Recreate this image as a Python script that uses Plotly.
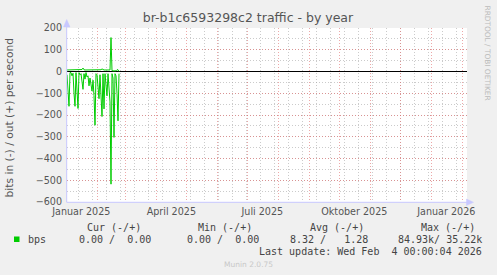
import pandas as pd
import plotly.graph_objects as go

# ---------------- data ----------------
start_day = "2025-01-01 16:00"
bits_in = [-15, -90, -160, -5, -5, -20, -8, -100, -160, -5, -70, -170, -5, -15,
           -10, -40, -82, -10, -35, -5, -25, -20, -66, -30, -60, -90, -40, -110,
           -247, -10, -15, -60, -125, -15, -110, -207, -10, -172, -10, -60, -112,
           -10, -80, -140, -518, -10, -30, -303, -10, -20, -100, -227, -10]
bits_out = [7, 7, 7, 7, 7, 7, 7, 7, 7, 7, 7, 7, 7, 7, 7, 9, 16, 8, 7, 7, 7, 7,
            7, 7, 7, 7, 7, 7, 7, 7, 7, 7, 7, 7, 8, 12, 7, 7, 7, 7, 7, 7, 7, 7,
            156, 4, 3, 3, 3, 3, 8, 8, 0]
dates = pd.date_range(start_day, periods=len(bits_in), freq="D")

x_range = ["2025-01-01 16:00", "2026-02-05 16:00"]
month_starts = pd.date_range("2025-01-01", "2026-02-01", freq="MS")
label_dates = ["2025-01-16", "2025-04-16", "2025-07-16", "2025-10-16", "2026-01-16"]
label_text = ["Januar 2025", "April 2025", "Juli 2025", "Oktober 2025", "Januar 2026"]
y_ticks = [200, 100, 0, -100, -200, -300, -400, -500, -600]

title = "br-b1c6593298c2 traffic - by year"
y_title = "bits in (-) / out (+) per second"
legend_heads = ["Cur (-/+)", "Min (-/+)", "Avg (-/+)", "Max (-/+)"]
legend_vals = ["0.00 /  0.00", "0.00 /  0.00", "8.32 /   1.28", "84.93k/ 35.22k"]
series_name = "bps"
last_update = "Last update: Wed Feb  4 00:00:04 2026"
footer = "Munin 2.0.75"
side_text = "RRDTOOL / TOBI OETIKER"

# ---------------- layout geometry ----------------
W, H = 497, 275
L, R, T, B = 67, 30, 28, 73
PW, PH = W - L - R, H - T - B


def px(xp):
    return (xp - L) / PW


def py(yp):
    return (H - B - yp) / PH


GREEN = "#00CC00"
TXT = "#555555"
LEG = "#444444"
AX = "#C8C8FF"
MAJ = "rgba(225,110,110,0.6)"
MIN = "rgba(160,160,160,0.55)"
DASH = "1px,2px"
sp = lambda s: s.replace(" ", "\u00a0")

fig = go.Figure()
fig.add_trace(go.Scatter(x=dates, y=bits_in, mode="lines",
                         line=dict(color=GREEN, width=1), showlegend=False,
                         name="in"))
fig.add_trace(go.Scatter(x=dates, y=bits_out, mode="lines",
                         line=dict(color=GREEN, width=1), showlegend=False,
                         name="out"))
# invisible companion trace for the label axis
fig.add_trace(go.Scatter(x=[x_range[0]], y=[0], xaxis="x2", mode="markers",
                         marker=dict(opacity=0), showlegend=False,
                         hoverinfo="skip"))

font_ax = dict(family="DejaVu Sans", size=9.6, color=TXT)
fig.update_layout(
    width=W, height=H,
    margin=dict(l=L, r=R, t=T, b=B, pad=0),
    paper_bgcolor="#F0F0F0", plot_bgcolor="white",
    showlegend=False,
    title=dict(text=title, x=248 / W, xanchor="center", y=1 - 18 / H,
               yanchor="middle",
               font=dict(family="DejaVu Sans", size=12.5, color=TXT)),
    xaxis=dict(type="date", range=x_range, tickmode="array",
               tickvals=list(month_starts), ticktext=[""] * len(month_starts),
               showgrid=True, gridcolor=MAJ, griddash=DASH, gridwidth=1,
               ticks="", showline=False, zeroline=False,
               minor=dict(tick0="2024-12-30", dtick=14 * 86400000,
                          showgrid=True, gridcolor=MIN, griddash=DASH,
                          gridwidth=1)),
    xaxis2=dict(type="date", range=x_range, overlaying="x", side="bottom",
                tickmode="array", tickvals=label_dates, ticktext=label_text,
                showgrid=False, ticks="", showline=False, zeroline=False,
                tickfont=font_ax, ticklabelstandoff=2),
    yaxis=dict(range=[-600, 200], tickmode="array", tickvals=y_ticks,
               showgrid=True, gridcolor=MAJ, griddash=DASH, gridwidth=1,
               zeroline=True, zerolinecolor="black", zerolinewidth=1,
               ticks="", showline=False, tickfont=font_ax,
               ticklabelstandoff=4,
               minor=dict(dtick=50, showgrid=True, gridcolor=MIN,
                          griddash=DASH, gridwidth=1)),
)

shapes = [
    # axes lines with arrows
    dict(type="line", xref="paper", yref="paper", x0=px(66.7), x1=px(66.7),
         y0=py(202.3), y1=py(24), line=dict(color=AX, width=1)),
    dict(type="line", xref="paper", yref="paper", x0=px(66.7), x1=px(470),
         y0=py(202.3), y1=py(202.3), line=dict(color=AX, width=1)),
    dict(type="path", xref="paper", yref="paper",
         path=f"M {px(63.5)} {py(27)} L {px(70)} {py(27)} L {px(66.7)} {py(19.5)} Z",
         fillcolor=AX, line=dict(color=AX, width=0.5)),
    dict(type="path", xref="paper", yref="paper",
         path=f"M {px(466.5)} {py(199)} L {px(466.5)} {py(205.6)} L {px(473.5)} {py(202.3)} Z",
         fillcolor=AX, line=dict(color=AX, width=0.5)),
    # legend colour box
    dict(type="rect", xref="paper", yref="paper", x0=px(14), x1=px(19.5),
         y0=py(242), y1=py(236.5), fillcolor=GREEN, line=dict(width=0)),
]
fig.update_layout(shapes=shapes)

mono = dict(family="DejaVu Sans Mono", size=10, color=LEG)
ann = []
ann.append(dict(text=y_title, x=px(9.5), y=py(118), textangle=-90,
                font=dict(family="DejaVu Sans", size=10.7, color=TXT)))
ann.append(dict(text=side_text, x=px(487.5), y=py(53), textangle=90,
                font=dict(family="DejaVu Sans", size=7.4, color="#BBBBBB")))
head_end = [142.3, 253.3, 364.7, 476.3]
val_end = [152, 260, 368.7, 483]
for t, e in zip(legend_heads, head_end):
    ann.append(dict(text=sp(t), x=px(e), y=py(227.7), xanchor="right",
                    font=mono))
for t, e in zip(legend_vals, val_end):
    ann.append(dict(text=sp(t), x=px(e), y=py(239.3), xanchor="right",
                    font=mono))
ann.append(dict(text=series_name, x=px(26.5), y=py(239.3), xanchor="left",
                font=mono))
ann.append(dict(text=sp(last_update), x=px(482.5), y=py(251.7),
                xanchor="right", font=mono))
ann.append(dict(text=footer, x=px(248), y=py(264.3),
                font=dict(family="DejaVu Sans", size=7.5, color="#C8C8C8")))
for a in ann:
    a.update(xref="paper", yref="paper", showarrow=False, borderpad=0)
    a.setdefault("xanchor", "center")
    a.setdefault("yanchor", "middle")
fig.update_layout(annotations=ann)

fig.write_html("out.html")
